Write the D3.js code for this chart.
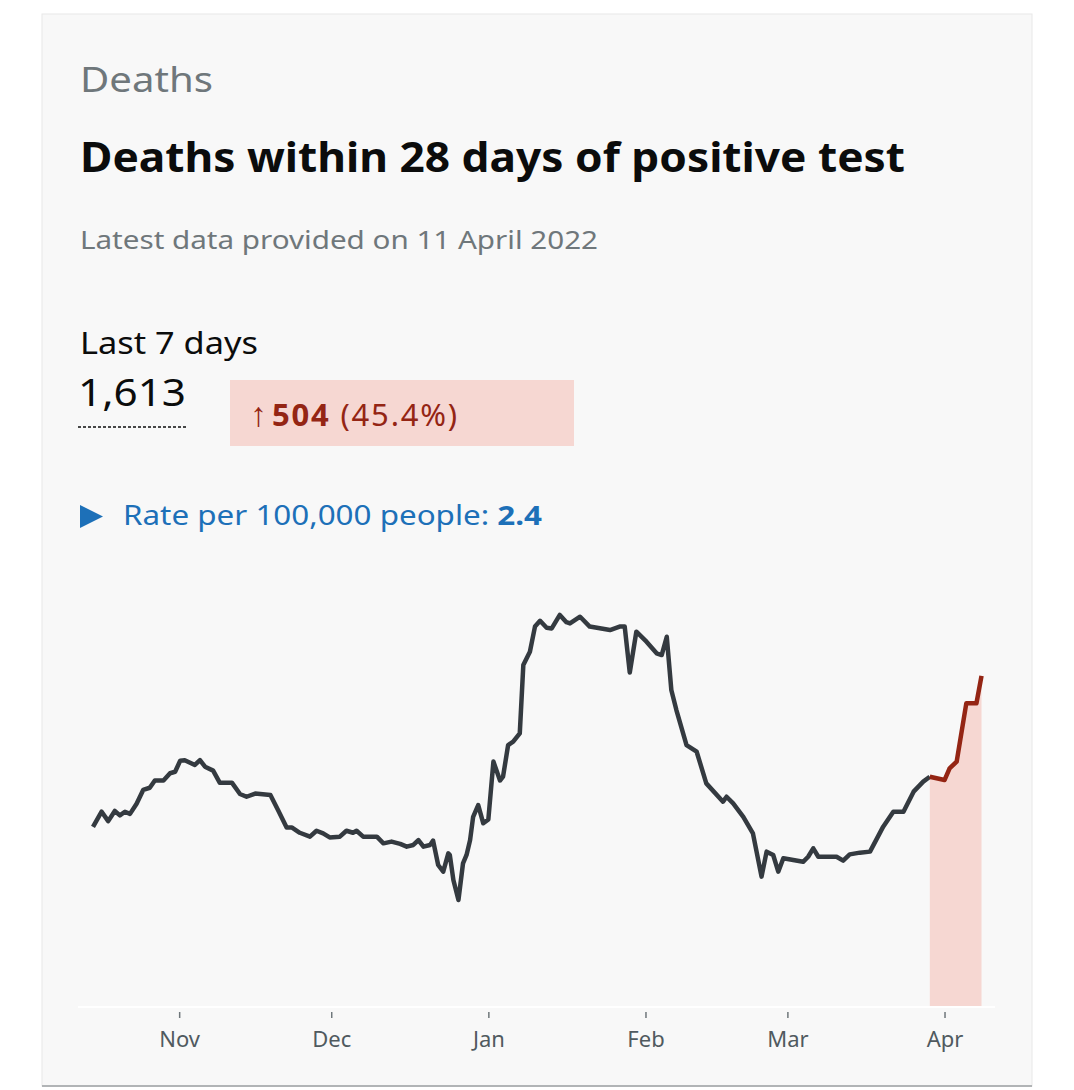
<!DOCTYPE html>
<html>
<head>
<meta charset="utf-8">
<script src="https://cdn.jsdelivr.net/npm/d3@7"></script>
<style>
  body { margin: 0; background: #fff; font-family: "Noto Sans", "Open Sans", sans-serif; }
</style>
</head>
<body>
<div id="card"></div>
<script>
var width = 1074,
    height = 1090;

// days since 15 Oct 2021, and 7-day average deaths
var days = [0, 1.7, 3, 4.3, 5.3, 6.3, 7.3, 8.6, 9.9, 11.2, 12.2, 13.9, 15.2, 16.2, 17.2, 18.1, 20.1, 21.1, 22.1, 23.7,
  25, 27.4, 29, 30.3, 32, 35, 36.5, 38.2, 39.2, 40.8, 42.8, 44.1, 45.4, 46.7, 48.7, 50, 51.3, 52, 53.3, 56,
  57.3, 58.9, 60.6, 61.9, 63.2, 64.2, 65.2, 66.5, 67.1, 68.1, 69.1, 70.1, 70.4, 71.1, 72.1, 73, 73.7, 74.4, 75, 76,
  77, 78, 79, 80.3, 80.9, 81.9, 82.9, 84.2, 84.9, 86.2, 87.2, 88.2, 89.5, 90.5, 92.1, 93.4, 94.1, 96.1, 98, 100,
  102, 103.9, 104.9, 105.9, 107.2, 109.2, 111.2, 112.2, 113.2, 114.1, 115.1, 117.1, 119.1, 121, 124.3, 125, 126.3, 128.3, 130.2, 131.9,
  132.9, 134.2, 135.2, 136.2, 140.1, 141.1, 142.1, 143.1, 146.7, 148, 149.3, 151.3, 153.3, 155.9, 157.9, 159.9, 161.9, 163.8, 165.1,
  168, 169, 170.4, 172.3, 174.3, 175.3];
var deaths = [124, 134.5, 128, 135, 132, 134.5, 133, 140, 149.5, 151, 156, 156, 161, 162, 169.6, 170, 166.7, 170, 165.5, 162.8,
  154.5, 154.5, 146.7, 144.8, 147, 146, 135.7, 123.7, 123.7, 120, 117.3, 121.4, 119.6, 116.8, 117.3, 121.4, 120, 121.4, 117.3, 117.3,
  112.7, 113.9, 112.3, 110.4, 111.6, 115, 110.4, 111.6, 114.6, 97.8, 93.2, 105.8, 104.7, 87.5, 73.7, 98.9, 104.7, 115, 131, 139,
  126.5, 129.2, 169, 156, 158.6, 180.4, 182.7, 188.5, 235.5, 244.7, 262, 266, 261.2, 260.7, 270, 265, 264.2, 268.8, 262, 260.8,
  259.6, 262, 262, 230.3, 258.5, 251.6, 243.6, 242.4, 255, 218.3, 204.5, 180.4, 175.8, 154, 141.4, 144.8, 140.3, 131, 119.6, 89.8,
  107, 104.7, 93.2, 102.4, 100, 103.5, 109.3, 103.5, 103.5, 100.8, 105.1, 106.3, 107, 124.2, 134.5, 134.5, 148.3, 155.2, 158.6,
  156.3, 164.4, 169, 209.2, 209.2, 228];
var highlightFrom = 165.1; // start of the red "recent" segment
var tickMonths = ["2021-11-01", "2021-12-01", "2022-01-01", "2022-02-01", "2022-03-01", "2022-04-01"];

var start = new Date(2021, 9, 15);
var data = days.map(function(d, i) {
  return {date: new Date(start.getTime() + d * 864e5), value: deaths[i], day: d};
});

var svg = d3.select("#card").append("svg")
    .attr("width", width)
    .attr("height", height);

// card
svg.append("rect").attr("x", 42).attr("y", 14).attr("width", 990).attr("height", 1072)
    .attr("fill", "#f8f8f8").attr("stroke", "#e8e8e8");
svg.append("line").attr("x1", 42).attr("x2", 1032).attr("y1", 1086).attr("y2", 1086)
    .attr("stroke", "#b1b4b6").attr("stroke-width", 2);

/*
-----------------TEXT-----------------
*/
// stretch text to the wider width of the original typeface
function fit(t, w) { return t.attr("textLength", w).attr("lengthAdjust", "spacingAndGlyphs"); }

fit(svg.append("text").attr("x", 80).attr("y", 92).attr("font-size", 35).attr("fill", "#6f777b").text("Deaths"), 133);
fit(svg.append("text").attr("x", 80).attr("y", 172).attr("font-size", 41).attr("font-weight", "bold")
    .attr("fill", "#0b0c0c").text("Deaths within 28 days of positive test"), 825);
fit(svg.append("text").attr("x", 80).attr("y", 249).attr("font-size", 26).attr("fill", "#6f777b")
    .text("Latest data provided on 11 April 2022"), 518);
fit(svg.append("text").attr("x", 80).attr("y", 354).attr("font-size", 31).attr("fill", "#0b0c0c").text("Last 7 days"), 178);
fit(svg.append("text").attr("x", 78).attr("y", 406).attr("font-size", 39).attr("fill", "#0b0c0c").text("1,613"), 108);
svg.append("line").attr("x1", 78).attr("x2", 188).attr("y1", 427).attr("y2", 427)
    .attr("stroke", "#0b0c0c").attr("stroke-width", 1.5).attr("stroke-dasharray", "3,2");

svg.append("rect").attr("x", 230).attr("y", 380).attr("width", 344).attr("height", 66).attr("fill", "#f6d7d2");
svg.append("text").attr("x", 250).attr("y", 426).attr("font-size", 34).attr("font-weight", "bold")
    .attr("fill", "#942514").text("\u2191");
var chg = svg.append("text").attr("x", 272).attr("y", 426).attr("font-size", 31).attr("fill", "#942514")
    .attr("letter-spacing", 1.8);
chg.append("tspan").attr("font-weight", "bold").text("504");
chg.append("tspan").text(" (45.4%)");

svg.append("path").attr("d", "M80,505 L103,516.5 L80,528 Z").attr("fill", "#1d70b8");
var rate = fit(svg.append("text").attr("x", 123).attr("y", 525).attr("font-size", 27).attr("fill", "#1d70b8"), 419);
rate.append("tspan").text("Rate per 100,000 people: ");
rate.append("tspan").attr("font-weight", "bold").text("2.4");

/*
-----------------CHART-----------------
*/
var x = d3.scaleTime()
    .domain([new Date(2021, 9, 15), new Date(2022, 3, 8)])
    .range([93, 980]);
var y = d3.scaleLinear().domain([0, 275]).range([1007, 607.7]);

var line = d3.line()
    .x(function(d) { return x(d.date); })
    .y(function(d) { return y(d.value); });
var area = d3.area()
    .x(function(d) { return x(d.date); })
    .y0(y(0))
    .y1(function(d) { return y(d.value); });

var recent = data.filter(function(d) { return d.day >= highlightFrom; });
var older = data.filter(function(d) { return d.day <= highlightFrom; });

svg.append("path").datum(recent).attr("d", area).attr("fill", "#f6d7d2");

svg.append("path").datum(older).attr("d", line)
    .attr("fill", "none").attr("stroke", "#343a40").attr("stroke-width", 4.5).attr("stroke-linejoin", "round");
svg.append("path").datum(recent).attr("d", line)
    .attr("fill", "none").attr("stroke", "#942514").attr("stroke-width", 4.5).attr("stroke-linejoin", "round");

var axis = svg.append("g").attr("transform", "translate(0,1007)")
    .call(d3.axisBottom(x)
      .tickValues(tickMonths.map(function(s) { return d3.timeParse("%Y-%m-%d")(s); }))
      .tickFormat(d3.timeFormat("%b"))
      .tickSize(6).tickPadding(18));
axis.select(".domain").attr("d", "M78,0H995").attr("stroke", "#ffffff").attr("stroke-width", 2);
axis.selectAll(".tick line").attr("y1", 5).attr("y2", 11).attr("stroke", "#6f777b").attr("stroke-width", 1.5);
axis.selectAll(".tick text").attr("font-size", 22).attr("fill", "#505a5f")
    .attr("font-family", "\"Noto Sans\", sans-serif");
</script>
</body>
</html>
